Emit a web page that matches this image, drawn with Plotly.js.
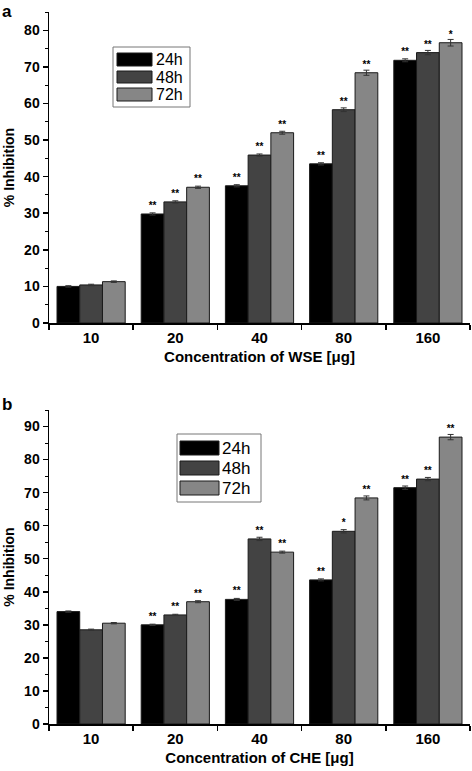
<!DOCTYPE html>
<html><head><meta charset="utf-8">
<script src="https://cdn.plot.ly/plotly-3.0.1.min.js"></script>
<style>html,body{margin:0;padding:0;background:#fff}</style></head>
<body><div id="chart" style="width:472px;height:771px"></div>
<script>
const concentrations = ['10','20','40','80','160'];
const seriesNames = ['24h','48h','72h'];
const seriesColors = ['#000000','#434343','#868686'];

// Panel a (WSE)
const wse24 = [10.0, 29.8, 37.5, 43.5, 71.8];
const wse48 = [10.4, 33.1, 45.9, 58.3, 73.9];
const wse72 = [11.3, 37.1, 52.0, 68.4, 76.6];
const wseErr24 = [0.2, 0.3, 0.3, 0.3, 0.4];
const wseErr48 = [0.2, 0.3, 0.3, 0.5, 0.6];
const wseErr72 = [0.2, 0.3, 0.4, 0.7, 0.9];
const wseSig24 = ['', '**', '**', '**', '**'];
const wseSig48 = ['', '**', '**', '**', '**'];
const wseSig72 = ['', '**', '**', '**', '*'];

// Panel b (CHE)
const che24 = [34.0, 30.0, 37.7, 43.6, 71.5];
const che48 = [28.5, 33.0, 56.0, 58.3, 74.1];
const che72 = [30.5, 37.0, 52.0, 68.4, 86.8];
const cheErr24 = [0.2, 0.2, 0.3, 0.3, 0.5];
const cheErr48 = [0.2, 0.2, 0.5, 0.5, 0.5];
const cheErr72 = [0.2, 0.3, 0.3, 0.6, 0.8];
const cheSig24 = ['', '**', '**', '**', '**'];
const cheSig48 = ['', '**', '**', '*', '**'];
const cheSig72 = ['', '**', '**', '**', '**'];

const FONT = 'Liberation Sans, Arial, sans-serif';
const M = {l:49, r:2, t:12, b:47};
const W = 472, H = 771;
const PW = W - M.l - M.r, PH = H - M.t - M.b;
const px = x => (x - M.l) / PW;
const py = y => (H - M.b - y) / PH;

function mk(vals, errs, sig, i, xa, ya) {
  return {
    type:'bar', x: concentrations, y: vals, name: seriesNames[i],
    xaxis: xa, yaxis: ya, showlegend:false,
    marker:{color: seriesColors[i], line:{color:'#1a1a1a', width:1}},
    error_y:{type:'data', array: errs, visible:true, color:'#333', thickness:1, width:3},
    text: sig, textposition:'outside', constraintext:'none', cliponaxis:false,
    textfont:{family:FONT, size:10, color:'#000', weight:'bold'},
    hoverinfo:'skip'
  };
}

const data = [
  mk(wse24, wseErr24, wseSig24, 0, 'x', 'y'),
  mk(wse48, wseErr48, wseSig48, 1, 'x', 'y'),
  mk(wse72, wseErr72, wseSig72, 2, 'x', 'y'),
  mk(che24, cheErr24, cheSig24, 0, 'x2', 'y2'),
  mk(che48, cheErr48, cheSig48, 1, 'x2', 'y2'),
  mk(che72, cheErr72, cheSig72, 2, 'x2', 'y2')
];

const xBase = {
  type:'category', range:[-0.5, 4.5], showline:true, linecolor:'#000', linewidth:1.5,
  ticks:'outside', ticklen:5, tickwidth:1.5, tickcolor:'#000', tickson:'boundaries',
  showgrid:false, zeroline:false,
  tickfont:{family:FONT, size:15, color:'#000', weight:'bold'}
};
const yBase = {
  showline:true, linecolor:'#000', linewidth:1.5, ticks:'outside', ticklen:5, tickwidth:1.5,
  tickcolor:'#000', dtick:10, showgrid:false, zeroline:false,
  minor:{ticks:'outside', ticklen:3, tickcolor:'#000', tickwidth:1, dtick:5},
  tickfont:{family:FONT, size:14, color:'#000', weight:'bold'},
  title:{text:'% Inhibition', font:{family:FONT, size:14, color:'#000', weight:'bold'}, standoff:6}
};

const layout = {
  width:W, height:H, margin:M, paper_bgcolor:'#fff', plot_bgcolor:'#fff',
  barmode:'group', bargap:0.19, bargroupgap:0,
  xaxis: Object.assign({}, xBase, {anchor:'y', domain:[0,1],
    title:{text:'Concentration of WSE [μg]', font:{family:FONT, size:15, color:'#000', weight:'bold'}, standoff:7}}),
  yaxis: Object.assign({}, yBase, {anchor:'x', domain:[py(323), 1], range:[0,85]}),
  xaxis2: Object.assign({}, xBase, {anchor:'y2', domain:[0,1],
    title:{text:'Concentration of CHE [μg]', font:{family:FONT, size:15, color:'#000', weight:'bold'}, standoff:7}}),
  yaxis2: Object.assign({}, yBase, {anchor:'x2', domain:[0, py(410)], range:[0,95]}),
  shapes: [], annotations: []
};

// panel labels
layout.annotations.push({xref:'paper', yref:'paper', x:px(0), y:py(0), xanchor:'left', yanchor:'top',
  text:'a', showarrow:false, font:{family:FONT, size:17, color:'#000', weight:'bold'}});
layout.annotations.push({xref:'paper', yref:'paper', x:px(0), y:py(393), xanchor:'left', yanchor:'top',
  text:'b', showarrow:false, font:{family:FONT, size:17, color:'#000', weight:'bold'}});

// custom legends
function legend(box, sw, textX, fs) {
  layout.shapes.push({type:'rect', xref:'paper', yref:'paper', x0:px(box[0]), x1:px(box[2]),
    y0:py(box[1]), y1:py(box[3]), line:{color:'#777', width:1}, fillcolor:'#fff', layer:'above'});
  sw.ys.forEach((yy, i) => {
    layout.shapes.push({type:'rect', xref:'paper', yref:'paper', x0:px(sw.x0), x1:px(sw.x1),
      y0:py(yy[0]), y1:py(yy[1]), line:{color:'#1a1a1a', width:1}, fillcolor:seriesColors[i], layer:'above'});
    layout.annotations.push({xref:'paper', yref:'paper', x:px(textX), y:py((yy[0]+yy[1])/2),
      xanchor:'left', yanchor:'middle', text:seriesNames[i], showarrow:false,
      font:{family:FONT, size:fs, color:'#000'}});
  });
}
legend([113,47,190,107], {x0:117, x1:152, ys:[[53,66],[71,83],[88,101]]}, 154, 16);
legend([177,434,261,502], {x0:180, x1:219, ys:[[441,455],[461,475],[481,495]]}, 220, 17);

Plotly.newPlot('chart', data, layout, {staticPlot:true});
</script></body></html>
